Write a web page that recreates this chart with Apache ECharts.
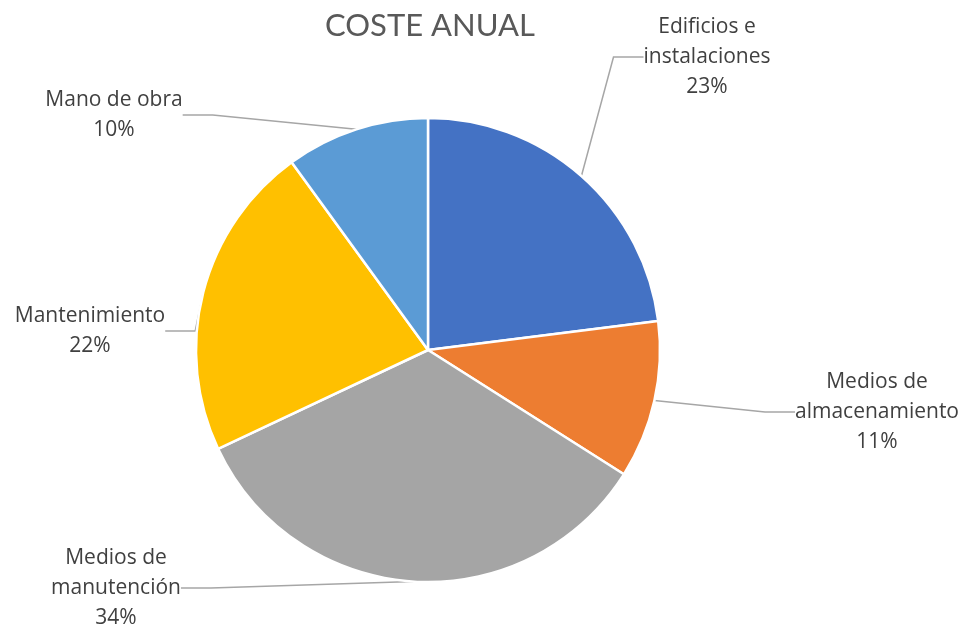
<!DOCTYPE html>
<html>
<head>
<meta charset="utf-8">
<script src="https://cdn.jsdelivr.net/npm/echarts@6/dist/echarts.min.js"></script>
<style>
  html, body { margin: 0; padding: 0; background: #fff; }
  #chart { width: 967px; height: 633px; }
</style>
</head>
<body>
<div id="chart"></div>
<script>
// Annual cost breakdown (percent of total)
const categories = [
  'Edificios e\ninstalaciones',
  'Medios de\nalmacenamiento',
  'Medios de\nmanutención',
  'Mantenimiento',
  'Mano de obra'
];
const values = [23, 11, 34, 22, 10];
const colors = ['#4472C4', '#ED7D31', '#A5A5A5', '#FFC000', '#5B9BD5'];

// Where each label block sits (centre of the text block, px)
const labelSpots = [
  [707, 57],
  [877, 412],
  [116, 588],
  [90, 331],
  [114, 115]
];

const chart = echarts.init(document.getElementById('chart'), null, { renderer: 'canvas' });

chart.setOption({
  animation: false,
  backgroundColor: '#ffffff',
  title: {
    text: 'COSTE ANUAL',
    left: 320,
    top: 5,
    textStyle: {
      fontFamily: 'Lato, "Open Sans", sans-serif',
      fontSize: 31,
      fontWeight: 'normal',
      color: '#595959'
    }
  },
  series: [{
    type: 'pie',
    center: [428, 350],
    radius: [0, 232],
    startAngle: 90,
    clockwise: true,
    data: categories.map((name, i) => ({
      name: name,
      value: values[i],
      itemStyle: { color: colors[i] }
    })),
    itemStyle: { borderColor: '#ffffff', borderWidth: 2.5 },
    label: {
      show: true,
      formatter: p => p.name + '\n' + p.value + '%',
      fontFamily: '"Open Sans", sans-serif',
      fontSize: 21,
      lineHeight: 30,
      color: '#404040',
      align: 'center',
      overflow: 'none'
    },
    labelLine: {
      show: true,
      lineStyle: { color: '#A6A6A6', width: 1.5 }
    },
    labelLayout: function (params) {
      const s = labelSpots[params.dataIndex];
      return { x: s[0], y: s[1], align: 'center', verticalAlign: 'middle' };
    },
    emphasis: { disabled: true }
  }]
});
</script>
</body>
</html>
